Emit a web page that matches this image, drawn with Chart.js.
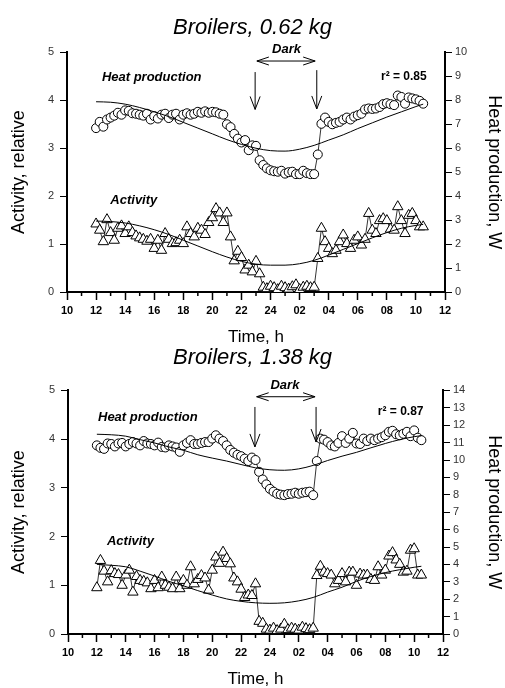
<!DOCTYPE html>
<html>
<head>
<meta charset="utf-8">
<script src="https://cdn.jsdelivr.net/npm/chart.js@4.4.0/dist/chart.umd.min.js"></script>
<style>
  html, body { margin: 0; padding: 0; background: #fff; overflow: hidden; }
  .panel { position: absolute; left: 0; width: 505px; height: 350px; }
  #panelSmall { top: 0; }
  #panelLarge { top: 340px; }
</style>
</head>
<body>
<div class="panel" id="panelSmall"><canvas id="chartSmall" width="505" height="350"></canvas></div>
<div class="panel" id="panelLarge"><canvas id="chartLarge" width="505" height="350"></canvas></div>
<script>
// sampling times, hours from midnight of day 1 (24 = midnight, 34.5 = 10:30 next day)
const times = [
  12, 12.25, 12.5, 12.75,  13, 13.25, 13.5, 13.75,  14, 14.25, 14.5, 14.75,
  15, 15.25, 15.5, 15.75,  16, 16.25, 16.5, 16.75,  17, 17.25, 17.5, 17.75,
  18, 18.25, 18.5, 18.75,  19, 19.25, 19.5, 19.75,  20, 20.25, 20.5, 20.75,
  21, 21.25, 21.5, 21.75,  22, 22.25, 22.5, 22.75,  23, 23.25, 23.5, 23.75,
  24, 24.25, 24.5, 24.75,  25, 25.25, 25.5, 25.75,  26, 26.25, 26.5, 26.75,
  27, 27.25, 27.5, 27.75,  28, 28.25, 28.5, 28.75,  29, 29.25, 29.5, 29.75,
  30, 30.25, 30.5, 30.75,  31, 31.25, 31.5, 31.75,  32, 32.25, 32.5, 32.75,
  33, 33.25, 33.5, 33.75,  34, 34.25, 34.5
];
const fitTimes = [12, 13, 14, 15, 16, 17, 18, 19, 20, 21, 22, 23, 24, 25, 26, 27, 28, 29, 30, 31, 32, 33, 34, 34.5];
const timeLabels = ['10', '12', '14', '16', '18', '20', '22', '24', '02', '04', '06', '08', '10', '12'];

// Broilers, 0.62 kg
const heatSmall = [ // W
  6.84, 7.10, 6.90, 7.20,  7.28, 7.36, 7.48, 7.40,  7.58, 7.56, 7.46, 7.44,
  7.40, 7.36, 7.44, 7.20,  7.34, 7.24, 7.40, 7.44,  7.26, 7.40, 7.44, 7.20,
  7.40, 7.46, 7.40, 7.44,  7.52, 7.48, 7.54, 7.48,  7.52, 7.50, 7.44, 7.40,
  7.00, 6.88, 6.60, 6.40,  6.24, 6.34, 5.92, 6.12,  6.10, 5.50, 5.30, 5.16,
  5.08, 5.04, 5.02, 5.06,  4.94, 5.00, 5.02, 4.92,  4.92, 5.06, 4.96, 4.92,
  4.92, 5.74, 7.02, 7.28,  7.10, 7.00, 7.06, 7.10,  7.20, 7.28, 7.20, 7.32,
  7.38, 7.44, 7.62, 7.66,  7.64, 7.66, 7.72, 7.84,  7.88, 7.84, 7.80, 8.20,
  8.14, 7.86, 8.12, 8.08,  8.04, 7.98, 7.86
];
const activitySmall = [
  1.42, 1.29, 1.05, 1.51,  1.24, 1.08, 1.33, 1.38,  1.22, 1.36, 1.24, 1.17,
  1.13, 1.10, 1.06, 1.10,  0.91, 1.08, 0.87, 1.22,  1.10, 1.01, 1.03, 1.08,
  1.01, 1.36, 1.22, 1.15,  1.33, 1.29, 1.20, 1.45,  1.55, 1.74, 1.65, 1.45,
  1.65, 1.15, 0.65, 0.85,  0.72, 0.46, 0.56, 0.42,  0.64, 0.38, 0.10, 0.07,
  0.12, 0.09, 0.05, 0.12,  0.09, 0.06, 0.11, 0.15,  0.05, 0.10, 0.12, 0.09,
  0.10, 0.70, 1.33, 1.05,  0.91, 0.80, 0.87, 1.05,  1.19, 1.01, 0.91, 1.08,
  1.15, 0.98, 1.10, 1.64,  1.29, 1.22, 1.49, 1.53,  1.49, 1.31, 1.29, 1.78,
  1.49, 1.22, 1.60, 1.64,  1.49, 1.36, 1.36
];
const heatFitSmall = [7.94, 7.92, 7.84, 7.70, 7.52, 7.32, 7.08, 6.84, 6.60, 6.36, 6.16, 6.00,
  5.90, 5.88, 5.96, 6.12, 6.34, 6.56, 6.82, 7.06, 7.30, 7.52, 7.74, 7.84];
const activityFitSmall = [1.48, 1.47, 1.44, 1.38, 1.30, 1.20, 1.08, 0.96, 0.84, 0.73, 0.64, 0.58,
  0.56, 0.56, 0.59, 0.66, 0.77, 0.89, 1.01, 1.13, 1.24, 1.33, 1.39, 1.41];

// Broilers, 1.38 kg
const heatLarge = [ // W
  10.84, 10.70, 10.64, 10.95,  10.92, 10.78, 10.95, 10.98,  10.78, 10.92, 11.03, 10.95,
  10.84, 11.09, 10.95, 10.92,  10.84, 11.00, 10.75, 10.72,  10.84, 10.78, 10.72, 10.47,
  10.84, 10.98, 11.14, 10.92,  10.92, 10.98, 11.03, 11.03,  11.23, 11.42, 11.23, 11.09,
  10.84, 10.58, 10.42, 10.30,  10.22, 10.08, 9.94, 10.14,   10.00, 9.32, 8.88, 8.60,
  8.34, 8.18, 8.06, 8.01,      7.98, 8.04, 8.06, 8.12,      8.06, 8.12, 8.15, 8.18,
  7.98, 9.94, 11.23, 11.17,    11.03, 10.84, 10.78, 10.98,  11.37, 10.98, 11.23, 11.56,
  10.95, 10.92, 11.23, 11.09,  11.23, 11.14, 11.23, 11.31,  11.42, 11.62, 11.68, 11.48,
  11.42, 11.51, 11.62, 11.37,  11.70, 11.28, 11.14
];
const activityLarge = [
  0.95, 1.51, 1.29, 1.07,  1.30, 1.24, 1.22, 1.00,  1.21, 1.31, 0.86, 1.18,
  1.10, 1.08, 1.05, 0.93,  1.10, 0.95, 1.17, 1.00,  0.96, 0.93, 1.17, 0.93,
  1.10, 1.00, 1.38, 1.03,  1.12, 1.20, 1.15, 0.90,  1.31, 1.58, 1.45, 1.68,
  1.55, 1.44, 1.15, 1.07,  0.92, 0.75, 0.80, 0.79,  1.03, 0.26, 0.22, 0.10,
  0.08, 0.12, 0.07, 0.10,  0.20, 0.09, 0.12, 0.10,  0.08, 0.14, 0.11, 0.09,
  0.12, 1.20, 1.39, 1.27,  1.24, 1.21, 1.03, 1.10,  1.24, 1.07, 1.27, 1.27,
  1.00, 1.23, 1.21, 1.21,  1.12, 1.10, 1.38, 1.21,  1.31, 1.60, 1.67, 1.52,
  1.43, 1.27, 1.29, 1.72,  1.75, 1.21, 1.21
];
const heatFitLarge = [11.48, 11.45, 11.37, 11.17, 10.98, 10.75, 10.56, 10.30, 10.11, 9.94, 9.74, 9.55,
  9.44, 9.41, 9.49, 9.69, 9.97, 10.22, 10.44, 10.70, 10.95, 11.17, 11.34, 11.40];
const activityFitLarge = [1.43, 1.41, 1.38, 1.29, 1.19, 1.08, 0.99, 0.89, 0.80, 0.72, 0.67, 0.64,
  0.63, 0.64, 0.68, 0.75, 0.86, 0.96, 1.08, 1.18, 1.26, 1.32, 1.37, 1.39];

Chart.defaults.font.family = "'Liberation Sans', Arial, sans-serif";
Chart.defaults.color = '#000';

function pairs(xs, ys) {
  return xs.map((t, i) => ({ x: t, y: ys[i] }));
}

// text labels, arrows and the short odd-hour ticks, placed in data units
const notesPlugin = {
  id: 'notes',
  afterDraw(chart, args, o) {
    const { ctx, scales: { x, y } } = chart;
    const px = v => x.getPixelForValue(v);
    const py = v => y.getPixelForValue(v);
    ctx.save();
    ctx.strokeStyle = '#000';
    ctx.fillStyle = '#000';

    // minor ticks
    ctx.lineWidth = 1.5;
    for (let h = 11; h < 36; h += 2) {
      ctx.beginPath();
      ctx.moveTo(px(h), y.bottom);
      ctx.lineTo(px(h), y.bottom + 4);
      ctx.stroke();
    }

    ctx.textBaseline = 'middle';
    ctx.font = "italic bold 13px 'Liberation Sans', Arial, sans-serif";
    ctx.textAlign = 'left';
    ctx.fillText('Heat production', px(o.heat[0]), py(o.heat[1]));
    ctx.fillText('Activity', px(o.activity[0]), py(o.activity[1]));
    ctx.textAlign = 'center';
    ctx.fillText('Dark', px(o.dark[0]), py(o.dark[1]));
    ctx.font = "bold 12px 'Liberation Sans', Arial, sans-serif";
    ctx.textAlign = 'right';
    ctx.fillText(o.r2, px(o.r2At[0]), py(o.r2At[1]));

    ctx.lineWidth = 1;
    // dark period double arrow
    const x1 = px(o.span[0]), x2 = px(o.span[1]), ys = py(o.span[2]);
    ctx.beginPath();
    ctx.moveTo(x1, ys); ctx.lineTo(x2, ys);
    ctx.moveTo(x1 + 12, ys - 4); ctx.lineTo(x1, ys); ctx.lineTo(x1 + 12, ys + 4);
    ctx.moveTo(x2 - 12, ys - 4); ctx.lineTo(x2, ys); ctx.lineTo(x2 - 12, ys + 4);
    ctx.stroke();
    // lights off / on arrows
    o.arrows.forEach(a => {
      const ax = px(a[0]), y0 = py(a[1]), y1 = py(a[2]);
      ctx.beginPath();
      ctx.moveTo(ax, y0); ctx.lineTo(ax, y1);
      ctx.moveTo(ax - 5, y1 - 13); ctx.lineTo(ax, y1); ctx.lineTo(ax + 5, y1 - 13);
      ctx.stroke();
    });
    ctx.restore();
  }
};

function makeChart(id, c) {
  const axisBorder = { color: '#000', width: 2 };
  return new Chart(document.getElementById(id), {
    type: 'line',
    data: {
      datasets: [
        {
          label: 'Heat production fit', data: pairs(fitTimes, c.heatFit), yAxisID: 'y2',
          borderColor: '#000', borderWidth: 1, pointRadius: 0, cubicInterpolationMode: 'monotone'
        },
        {
          label: 'Activity fit', data: pairs(fitTimes, c.activityFit), yAxisID: 'y',
          borderColor: '#000', borderWidth: 1, pointRadius: 0, cubicInterpolationMode: 'monotone'
        },
        {
          label: 'Heat production', data: pairs(times, c.heat), yAxisID: 'y2',
          borderColor: '#000', borderWidth: 0.8, pointStyle: 'circle', pointRadius: 4.5,
          pointBackgroundColor: '#fff', pointBorderColor: '#000', pointBorderWidth: 1
        },
        {
          label: 'Activity', data: pairs(times, c.activity), yAxisID: 'y',
          borderColor: '#000', borderWidth: 0.8, pointStyle: 'triangle', pointRadius: 6,
          pointBackgroundColor: '#fff', pointBorderColor: '#000', pointBorderWidth: 1
        }
      ]
    },
    options: {
      responsive: false,
      animation: false,
      layout: { padding: 0 },
      plugins: {
        legend: { display: false },
        tooltip: { enabled: false },
        title: {
          display: true, text: c.title, color: '#000',
          font: { size: 22, style: 'italic', weight: 'normal' },
          padding: c.titlePad
        },
        notes: c.notes
      },
      scales: {
        x: {
          type: 'linear', min: 10, max: 36,
          afterFit: s => { s.height = c.xHeight; },
          border: axisBorder,
          grid: {
            drawOnChartArea: false, tickLength: 8, tickWidth: 1.5,
            tickColor: ctx => (ctx.tick && ctx.tick.value % 2) ? 'rgba(0,0,0,0)' : '#000'
          },
          ticks: {
            stepSize: 1, autoSkip: false, maxRotation: 0, padding: 4,
            font: { size: 11, weight: 'bold' },
            callback: v => (v % 2 ? '' : timeLabels[(v - 10) / 2])
          },
          title: { display: true, text: 'Time, h', font: { size: 17 }, padding: { top: 0, bottom: c.xTitlePad } }
        },
        y: {
          position: 'left', min: 0, max: 5,
          afterFit: s => { s.width = c.leftWidth; },
          border: axisBorder,
          grid: { drawOnChartArea: false, tickLength: 7, tickWidth: 1, tickColor: '#000' },
          ticks: { stepSize: 1, padding: 6, color: '#333', font: { size: 11 } },
          title: { display: true, text: 'Activity, relative', font: { size: 18 }, padding: { top: 8, bottom: 0 } }
        },
        y2: {
          position: 'right', min: 0, max: c.heatMax,
          afterFit: s => { s.width = c.rightWidth; },
          border: axisBorder,
          grid: { drawOnChartArea: false, tickLength: 7, tickWidth: 1, tickColor: '#000' },
          ticks: { stepSize: 1, padding: 3, color: '#333', font: { size: 11 } },
          title: { display: true, text: 'Heat production, W', font: { size: 18 }, padding: { top: 0, bottom: 0 } }
        }
      }
    },
    plugins: [notesPlugin]
  });
}

makeChart('chartSmall', {
  title: 'Broilers, 0.62 kg',
  heat: heatSmall, activity: activitySmall, heatFit: heatFitSmall, activityFit: activityFitSmall,
  heatMax: 10,
  titlePad: { top: 15, bottom: 11 }, xHeight: 58, xTitlePad: 2, leftWidth: 67, rightWidth: 60,
  notes: {
    heat: [12.4, 4.47], activity: [12.98, 1.92], dark: [25.1, 5.06],
    r2: 'r\u00b2 = 0.85', r2At: [34.74, 4.5],
    span: [23.06, 27.07, 4.82],
    arrows: [[22.94, 4.59, 3.81], [27.18, 4.63, 3.82]]
  }
});

makeChart('chartLarge', {
  title: 'Broilers, 1.38 kg',
  heat: heatLarge, activity: activityLarge, heatFit: heatFitLarge, activityFit: activityFitLarge,
  heatMax: 14,
  titlePad: { top: 5, bottom: 19 }, xHeight: 56, xTitlePad: 0, leftWidth: 68, rightWidth: 62,
  notes: {
    heat: [12.08, 4.44], activity: [12.7, 1.89], dark: [25.04, 5.1],
    r2: 'r\u00b2 = 0.87', r2At: [34.65, 4.56],
    span: [23.08, 27.13, 4.87],
    arrows: [[22.96, 4.66, 3.84], [27.2, 4.66, 3.94]]
  }
});
</script>
</body>
</html>
